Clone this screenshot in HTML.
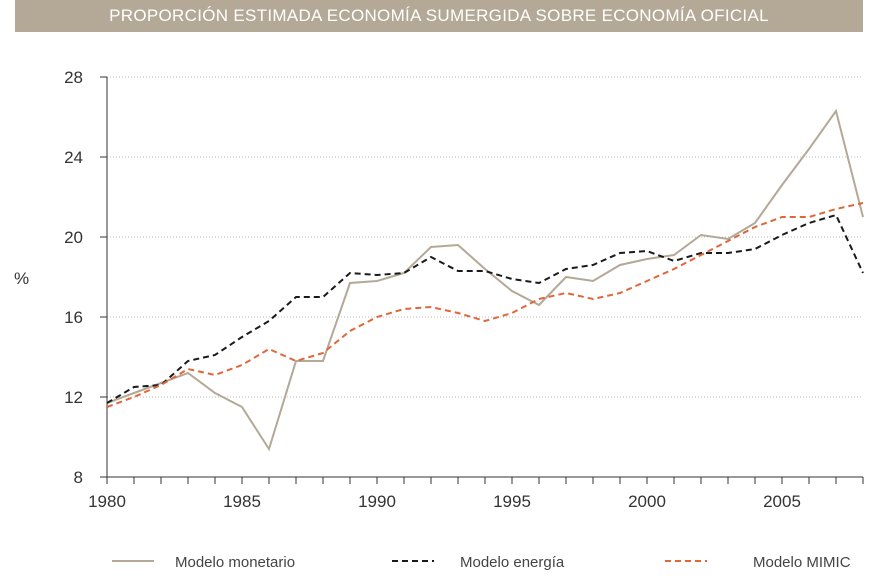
<!DOCTYPE html>
<html><head><meta charset="utf-8"><style>
body{margin:0;background:#fff;width:883px;height:581px;overflow:hidden;font-family:"Liberation Sans",sans-serif}
#title{position:absolute;left:15px;top:0;width:848px;height:32px;background:#b3a996;color:#fff;font-size:17px;line-height:32px;text-align:center;letter-spacing:0.3px}
</style></head><body>
<div id="title">PROPORCIÓN ESTIMADA ECONOMÍA SUMERGIDA SOBRE ECONOMÍA OFICIAL</div>
<svg id="chart" width="883" height="581" style="position:absolute;left:0;top:0"></svg>
<script>
const years=[];for(let y=1980;y<=2008;y++)years.push(y);
const monetario=[11.7,12.2,12.7,13.2,12.2,11.5,9.4,13.8,13.8,17.7,17.8,18.2,19.5,19.6,18.4,17.3,16.6,18.0,17.8,18.6,18.9,19.1,20.1,19.9,20.7,22.6,24.4,26.3,21.0];
const energia=[11.7,12.5,12.6,13.8,14.1,15.0,15.8,17.0,17.0,18.2,18.1,18.2,19.0,18.3,18.3,17.9,17.7,18.4,18.6,19.2,19.3,18.8,19.2,19.2,19.4,20.1,20.7,21.1,18.2];
const mimic=[11.5,12.0,12.6,13.4,13.1,13.6,14.4,13.8,14.2,15.3,16.0,16.4,16.5,16.2,15.8,16.2,16.9,17.2,16.9,17.2,17.8,18.4,19.1,19.8,20.5,21.0,21.0,21.4,21.7];
const yTicks=[8,12,16,20,24,28];
const xLabels=[1980,1985,1990,1995,2000,2005];
const X0=107,X1=863,Y0=477,Y1=77;
const xs=v=>X0+(v-1980)*(X1-X0)/28;
const ys=v=>Y0-(v-8)*(Y0-Y1)/20;
const svg=document.getElementById('chart');const NS='http://www.w3.org/2000/svg';
function mk(t,a,p){const e=document.createElementNS(NS,t);for(const k in a)e.setAttribute(k,a[k]);(p||svg).appendChild(e);return e;}
yTicks.forEach(v=>{
 if(v>8){const g=mk('line',{x1:X0,x2:X1,y1:ys(v),y2:ys(v),stroke:'#bbb','stroke-dasharray':'1,2'});
 
 }
 mk('line',{x1:X0-7,x2:X0,y1:ys(v),y2:ys(v),stroke:'#333'});
 const t=mk('text',{x:83,y:ys(v)+6,'text-anchor':'end','font-size':17,fill:'#333'});t.textContent=v;
 
 
});
years.forEach(y=>{mk('line',{x1:xs(y),x2:xs(y),y1:Y0,y2:Y0+7,stroke:'#333'});});
xLabels.forEach(y=>{const t=mk('text',{x:xs(y),y:Y0+30,'text-anchor':'middle','font-size':17,fill:'#333'});t.textContent=y;
 
 });
mk('line',{x1:X0,x2:X0,y1:Y1,y2:Y0,stroke:'#333'});
mk('line',{x1:X0,x2:X1,y1:Y0,y2:Y0,stroke:'#333'});
const yt=mk('text',{x:14,y:284,'font-size':17,fill:'#333'});yt.textContent='%';


function line(data,color,dash,name){
 const p=mk('polyline',{points:data.map((v,i)=>xs(years[i])+','+ys(v)).join(' '),fill:'none',stroke:color,'stroke-width':2,'stroke-dasharray':dash});
 
 
}
line(monetario,'#b3a996','none','series-monetario');
line(energia,'#1a1a1a','6,4','series-energia');
line(mimic,'#e0673a','6,4','series-mimic');
const leg=[['Modelo monetario','#b3a996','none',112,175],['Modelo energía','#1a1a1a','6,4',392,460],['Modelo MIMIC','#e0673a','6,4',665,753]];
leg.forEach(l=>{
 const g=mk('g',{});
 
 
 mk('line',{x1:l[3],x2:l[3]+42,y1:561,y2:561,stroke:l[1],'stroke-width':2,'stroke-dasharray':l[2]},g);
 const t=mk('text',{x:l[4],y:567,'font-size':15,fill:'#444'},g);t.textContent=l[0];
});
</script>
</body></html>
